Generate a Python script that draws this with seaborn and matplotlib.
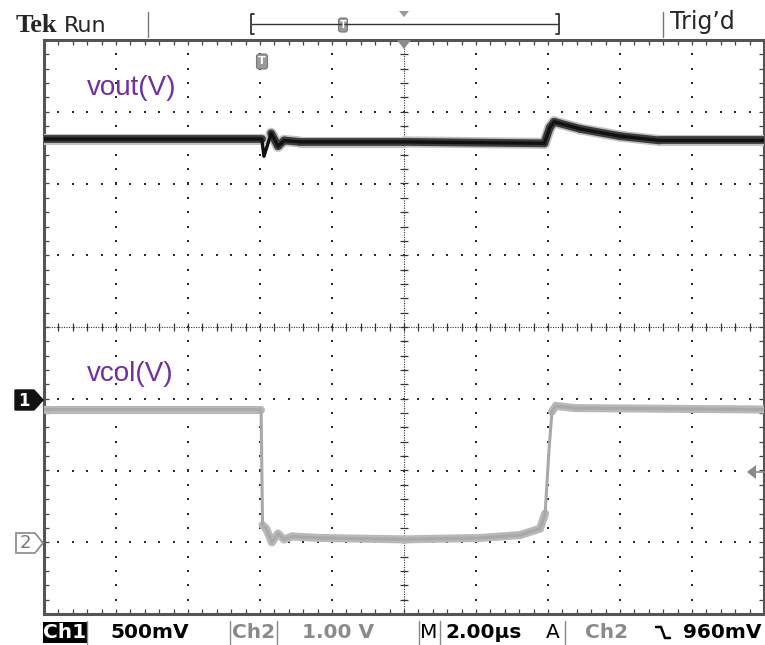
import numpy as np
import pandas as pd
import matplotlib
matplotlib.use("Agg")
import matplotlib.pyplot as plt
import seaborn as sns
from matplotlib.patches import Rectangle, Polygon, FancyBboxPatch
from matplotlib.collections import LineCollection

sns.set_theme(style="white")
plt.rcParams["font.family"] = ["DejaVu Sans"]

# ---- scope settings -------------------------------------------------------
TIME_PER_DIV_US = 2.0
CH1_VOLTS_PER_DIV = 0.5
CH2_VOLTS_PER_DIV = 1.0
CH1_GROUND_DIV = -1.0     # channel 1 reference marker (divisions from centre)
CH2_GROUND_DIV = -3.0     # channel 2 reference marker

# ---- channel 1: output voltage --------------------------------------------
vout_time_us = [-10.0, -3.95, -3.89, -3.69, -3.50, -3.33, -2.90, 0.0,
                3.90, 4.05, 4.17, 4.90, 6.00, 7.10, 10.0]
vout_volts = [1.81, 1.81, 1.69, 1.85, 1.76, 1.80, 1.79, 1.79,
              1.78, 1.89, 1.93, 1.88, 1.83, 1.80, 1.80]

# ---- channel 2: collector voltage -----------------------------------------
vcol_time_us = [-10.0, -3.97, -3.93, -3.83, -3.67, -3.50, -3.33, -3.11,
                -2.33, 0.0, 2.11, 3.22, 3.78, 3.92, 4.03, 4.11, 4.22,
                4.75, 10.0]
vcol_volts = [1.85, 1.85, 0.24, 0.19, 0.00, 0.12, 0.04, 0.08,
              0.06, 0.04, 0.06, 0.10, 0.19, 0.40, 1.30, 1.82, 1.90,
              1.87, 1.85]

ch1 = pd.DataFrame({"t": vout_time_us, "v": vout_volts})
ch1["div"] = CH1_GROUND_DIV + ch1["v"] / CH1_VOLTS_PER_DIV
ch2 = pd.DataFrame({"t": vcol_time_us, "v": vcol_volts})
ch2["div"] = CH2_GROUND_DIV + ch2["v"] / CH2_VOLTS_PER_DIV

W, H = 765, 645
fig = plt.figure(figsize=(W / 100, H / 100), dpi=100)
fig.patch.set_facecolor("white")

# graticule area in pixels
GX0, GX1, GY0, GY1 = 44, 764, 40, 614
ax = fig.add_axes([GX0 / W, 1 - GY1 / H, (GX1 - GX0) / W, (GY1 - GY0) / H])
ax.set_facecolor("white")
ax.set_xlim(-5 * TIME_PER_DIV_US, 5 * TIME_PER_DIV_US)
ax.set_ylim(-4, 4)
for s in ax.spines.values():
    s.set_visible(True)
    s.set_color("#555555")
    s.set_linewidth(2.2)

# ---- graticule ------------------------------------------------------------
dot_col = "#2a2a2a"
major_x = np.arange(-8, 8.01, TIME_PER_DIV_US)
major_y = np.arange(-3, 3.01, 1.0)
fine_x = np.arange(-10, 10.001, TIME_PER_DIV_US / 5)
fine_y = np.arange(-4, 4.001, 0.2)
dx, dy = [], []
for x in major_x:
    if abs(x) < 1e-9:
        continue
    dx += [x] * len(fine_y)
    dy += list(fine_y)
for y in major_y:
    if abs(y) < 1e-9:
        continue
    dx += list(fine_x)
    dy += [y] * len(fine_x)
ax.scatter(dx, dy, s=2.0, marker="s", color=dot_col, linewidths=0, zorder=1)

# centre cross with minor ticks
ax.axvline(0, ls=(0, (1, 1.2)), lw=0.8, color="#333333", zorder=1)
ax.axhline(0, ls=(0, (1, 1.2)), lw=0.8, color="#333333", zorder=1)
tx = 4 / 72 * TIME_PER_DIV_US   # 4 px in time units
ty = 4 / 72                      # 4 px in divisions
ax.hlines(fine_y, -tx, tx, color="#333333", lw=0.9, zorder=1)
ax.vlines(fine_x, -ty, ty, color="#333333", lw=0.9, zorder=1)
# border ticks
bx = 5 / 72 * TIME_PER_DIV_US
by = 5 / 72
ax.hlines(fine_y, -10, -10 + bx, color="#444444", lw=0.9, zorder=1)
ax.hlines(fine_y, 10 - bx, 10, color="#444444", lw=0.9, zorder=1)
ax.vlines(fine_x, 4 - by, 4, color="#444444", lw=0.9, zorder=1)
ax.vlines(fine_x, -4, -4 + by, color="#444444", lw=0.9, zorder=1)


def persistence_halo(df, color, lw_flat, lw_steep, z):
    """Wide band along a trace; fast edges stay thin like on a scope."""
    t = df["t"].to_numpy()
    d = df["div"].to_numpy()
    pts = np.column_stack([t, d])
    segs = np.stack([pts[:-1], pts[1:]], axis=1)
    run = np.abs(np.diff(t)) / TIME_PER_DIV_US
    rise = np.abs(np.diff(d))
    steep = rise > 3 * np.maximum(run, 1e-9)
    widths = np.where(steep, lw_steep, lw_flat)
    lc = LineCollection(segs, colors=color, linewidths=widths,
                        capstyle="round", joinstyle="round", zorder=z)
    ax.add_collection(lc)


# ---- traces ---------------------------------------------------------------
persistence_halo(ch2, "#b9b9b9", 5.8, 1.2, 3)
sns.lineplot(data=ch2, x="t", y="div", sort=False, estimator=None, ax=ax,
             color="#a9a9a9", lw=2.2, zorder=4, legend=False)
persistence_halo(ch1, "#c2c2c2", 8.0, 2.0, 5)
persistence_halo(ch1, "#3c3c3c", 5.6, 1.6, 5.5)
sns.lineplot(data=ch1, x="t", y="div", sort=False, estimator=None, ax=ax,
             color="#111111", lw=2.4, zorder=6, legend=False)
ax.set_xticks([])
ax.set_yticks([])
ax.set_xlabel("")
ax.set_ylabel("")
ax.set_xlim(-5 * TIME_PER_DIV_US, 5 * TIME_PER_DIV_US)
ax.set_ylim(-4, 4)

# ---- overlay in pixel coordinates (screen annotations) --------------------
ov = fig.add_axes([0, 0, 1, 1], zorder=10)
ov.set_xlim(0, W)
ov.set_ylim(H, 0)
ov.axis("off")
ov.patch.set_alpha(0)

purple = "#7030A0"
ov.text(87, 95, "vout(V)", color=purple, fontsize=20,
        family=["Liberation Sans", "DejaVu Sans"], va="baseline", ha="left")
ov.text(87, 381, "vcol(V)", color=purple, fontsize=20,
        family=["Liberation Sans", "DejaVu Sans"], va="baseline", ha="left")

# header
ov.text(16, 32, "Tek", fontsize=19, fontweight="bold",
        family=["Liberation Serif", "DejaVu Serif"], va="baseline", ha="left")
ov.text(64, 32, "Run", fontsize=16, va="baseline", ha="left")
ov.text(670, 29, "Trig\u2019d", fontsize=17, va="baseline", ha="left")
ov.plot([148, 148], [12, 37], color="#777777", lw=1.0)
ov.plot([663, 663], [12, 37], color="#777777", lw=1.0)
# record bar
ov.plot([252, 558], [24, 24], color="#333333", lw=1.0)
ov.plot([254, 251, 251, 254], [14, 14, 34, 34], color="#333333", lw=1.3)
ov.plot([556, 559, 559, 556], [14, 14, 34, 34], color="#333333", lw=1.3)
ov.add_patch(FancyBboxPatch((338.5, 18), 9, 14, boxstyle="round,pad=0,rounding_size=2.5",
                            fc="#9a9a9a", ec="#777777", lw=0.8))
ov.text(343, 25.5, "T", color="white", fontsize=7, fontweight="bold",
        ha="center", va="center")
ov.add_patch(Polygon([[399, 11], [409, 11], [404, 17]], closed=True,
                     fc="#9a9a9a", ec="none"))

# trigger position and level markers on the screen
ov.add_patch(FancyBboxPatch((256.5, 54), 11, 15, boxstyle="round,pad=0,rounding_size=2.5",
                            fc="#9a9a9a", ec="#777777", lw=0.8))
ov.text(262, 61.5, "T", color="white", fontsize=8, fontweight="bold",
        ha="center", va="center")
ov.add_patch(Polygon([[397, 40], [411, 40], [404, 49]], closed=True,
                     fc="#8a8a8a", ec="none"))
ov.add_patch(Polygon([[747, 472], [756, 465], [756, 479]], closed=True,
                     fc="#8a8a8a", ec="none"))
ov.plot([756, 764], [472, 472], color="#8a8a8a", lw=1.2)

# channel reference markers
ov.add_patch(Polygon([[15, 390], [34, 390], [43, 400], [34, 410], [15, 410]],
                     closed=True, fc="#111111", ec="#111111", lw=1))
ov.text(24, 400.5, "1", color="white", fontsize=12, fontweight="bold",
        ha="center", va="center")
ov.add_patch(Polygon([[16, 533], [35, 533], [43, 543], [35, 553], [16, 553]],
                     closed=True, fc="white", ec="#888888", lw=1.2))
ov.text(25.5, 543.5, "2", color="#777777", fontsize=13,
        ha="center", va="center")

# footer
fy = 633
fs = 14.5
ov.add_patch(Rectangle((43, 622), 44, 21, fc="#000000", ec="none"))
ov.text(65, fy, "Ch1", color="white", fontsize=fs, fontweight="bold",
        ha="center", va="center")
ov.text(150, fy, "500mV", color="black", fontsize=fs, fontweight="bold",
        ha="center", va="center")
for xs in (87, 230, 277, 419, 440, 565):
    ov.plot([xs, xs], [621, 644], color="#888888", lw=1.0)
ov.text(254, fy, "Ch2", color="#8a8a8a", fontsize=fs, fontweight="bold",
        ha="center", va="center")
ov.text(338, fy, "1.00 V", color="#8a8a8a", fontsize=fs, fontweight="bold",
        ha="center", va="center")
ov.text(429, fy, "M", color="black", fontsize=fs, ha="center", va="center")
ov.text(484, fy, "2.00\u00b5s", color="black", fontsize=fs, fontweight="bold",
        ha="center", va="center")
ov.text(553, fy, "A", color="black", fontsize=fs, ha="center", va="center")
ov.text(607, fy, "Ch2", color="#8a8a8a", fontsize=fs, fontweight="bold",
        ha="center", va="center")
ov.plot([656, 661, 665, 670], [627, 627, 638, 638], color="black", lw=1.8)
ov.text(722, fy, "960mV", color="black", fontsize=fs, fontweight="bold",
        ha="center", va="center")

fig.savefig("out.png", dpi=100, facecolor="white")
